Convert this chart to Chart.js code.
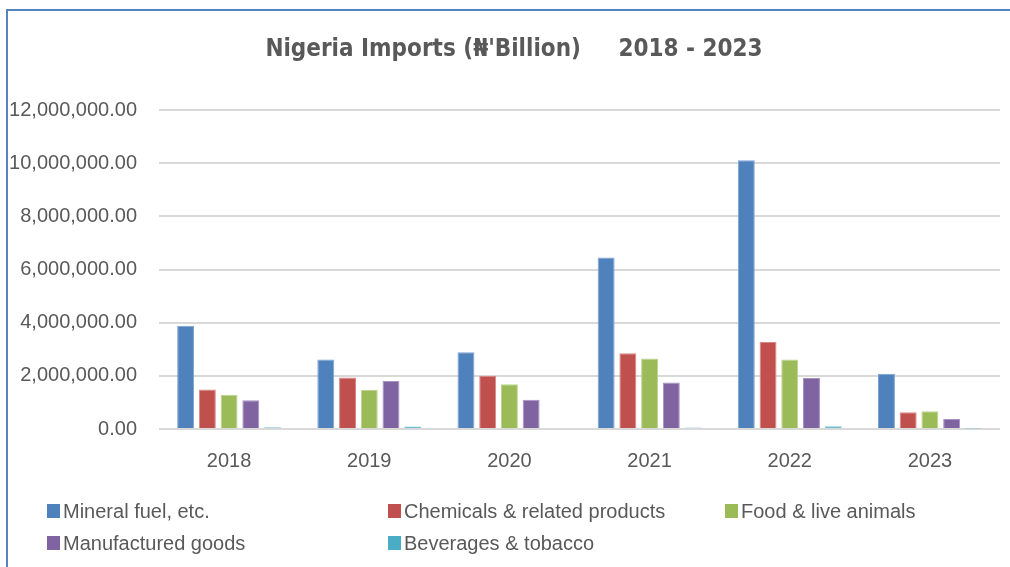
<!DOCTYPE html>
<html>
<head>
<meta charset="utf-8">
<script src="https://cdn.jsdelivr.net/npm/chart.js@4.4.1/dist/chart.umd.min.js"></script>
<style>
  html, body { margin: 0; padding: 0; background: #fff; }
  #wrap { position: relative; width: 1010px; height: 567px; }
  #frame {
    position: absolute; left: 6px; top: 9px; right: 0; bottom: 0;
    border-top: 2px solid #5682c0; border-left: 2px solid #5682c0;
    pointer-events: none;
  }
  canvas { position: absolute; left: 0; top: 0; }
</style>
</head>
<body>
<div id="wrap">
  <canvas id="imports" width="1010" height="567"></canvas>
  <div id="frame"></div>
</div>
<script>
// Nigeria imports by product group, 2018 - 2023
const years = ['2018', '2019', '2020', '2021', '2022', '2023'];
const seriesNames = [
  'Mineral fuel, etc.',
  'Chemicals & related products',
  'Food & live animals',
  'Manufactured goods',
  'Beverages & tobacco'
];
const mineralFuel   = [3880000, 2610000, 2890000, 6450000, 10110000, 2080000];
const chemicals     = [1490000, 1940000, 2000000, 2850000, 3270000, 630000];
const foodAnimals   = [1290000, 1470000, 1680000, 2650000, 2610000, 670000];
const manufactured  = [1080000, 1810000, 1100000, 1750000, 1920000, 380000];
const beverages     = [70000, 90000, 40000, 60000, 100000, 20000];
const yTicks = [0, 2000000, 4000000, 6000000, 8000000, 10000000, 12000000];
const chartTitle = "Nigeria Imports (\u20a6'Billion)     2018 - 2023";

const palette = ['#4f81bd', '#c0504d', '#9bbb59', '#8064a2', '#4bacc6'];
const edges = ['#7ea2d2', '#d88684', '#bdd38f', '#a592c0', '#86cbdc'];
const textColor = '#595959';
const FONT = "'Liberation Sans', Arial, sans-serif";

const seriesValues = [mineralFuel, chemicals, foodAnimals, manufactured, beverages];

const datasets = seriesValues.map((vals, i) => ({
  label: seriesNames[i],
  data: vals,
  backgroundColor: palette[i],
  borderColor: edges[i],
  borderWidth: { top: 1, left: 1, right: 1, bottom: 0 },
  barPercentage: 0.78,
  categoryPercentage: 0.775
}));

function fmt(v) {
  return Number(v).toLocaleString('en-US', { minimumFractionDigits: 2, maximumFractionDigits: 2 });
}

// title sits a little right of the canvas centre, over the whole frame
const frameTitle = {
  id: 'frameTitle',
  afterDraw(chart) {
    const ctx = chart.ctx;
    ctx.save();
    ctx.font = "bold 24px 'DejaVu Sans Condensed', " + FONT;
    ctx.fillStyle = textColor;
    ctx.textAlign = 'center';
    ctx.textBaseline = 'alphabetic';
    ctx.fillText(chartTitle, 514, 56);
    ctx.restore();
  }
};

// legend laid out in fixed columns under the plot
const columnLegend = {
  id: 'columnLegend',
  afterDraw(chart) {
    const ctx = chart.ctx;
    const cols = [47, 388, 725];
    const rows = [511, 543];
    ctx.save();
    ctx.font = '20px ' + FONT;
    ctx.textBaseline = 'middle';
    ctx.textAlign = 'left';
    chart.data.datasets.forEach((ds, i) => {
      const x = cols[i % 3];
      const y = rows[Math.floor(i / 3)];
      ctx.fillStyle = ds.backgroundColor;
      ctx.fillRect(x, y - 7, 13, 14);
      ctx.fillStyle = textColor;
      ctx.fillText(ds.label, x + 16, y + 1);
    });
    ctx.restore();
  }
};

new Chart(document.getElementById('imports'), {
  type: 'bar',
  data: { labels: years, datasets: datasets },
  options: {
    responsive: false,
    animation: false,
    layout: { padding: { left: 10, right: 10, top: 110, bottom: 0 } },
    plugins: {
      legend: { display: false },
      tooltip: { enabled: false },
      title: { display: false }
    },
    scales: {
      x: {
        grid: { display: false },
        border: { display: false },
        ticks: { color: textColor, font: { family: FONT, size: 20 }, padding: 12 },
        afterFit(scale) { scale.height = 138; }
      },
      y: {
        min: 0,
        max: 12000000,
        afterBuildTicks(scale) { scale.ticks = yTicks.map(v => ({ value: v })); },
        grid: { color: '#d9d9d9', lineWidth: 2, drawTicks: false },
        border: { display: false },
        ticks: {
          color: textColor,
          font: { family: FONT, size: 20 },
          padding: 22,
          callback: v => fmt(v)
        },
        afterFit(scale) { scale.width = 149; }
      }
    }
  },
  plugins: [frameTitle, columnLegend]
});
</script>
</body>
</html>
